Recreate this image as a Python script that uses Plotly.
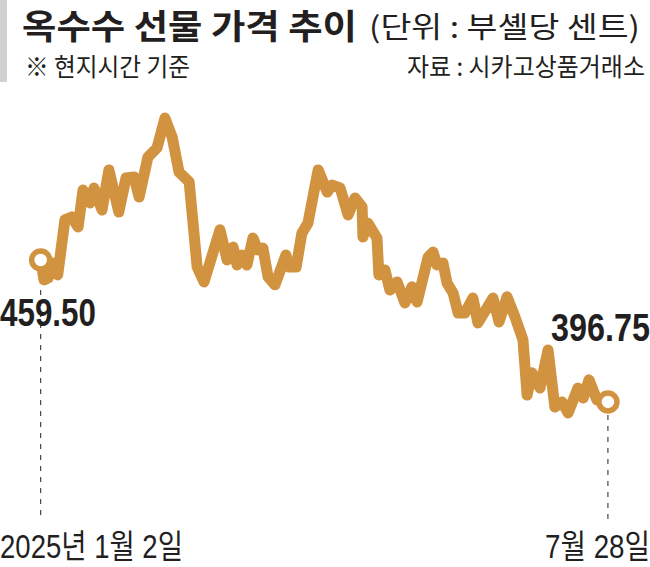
import plotly.graph_objects as go

# Days since 2025-01-02 and corn futures price (cents per bushel)
days = [0, 1.2, 2.7, 4.1, 6.2, 7.6, 8.8, 11.3, 13.6, 15.4, 18, 19.4, 22.3, 24.8, 28.4, 31, 33.9, 35.8, 39, 42.3,
        45.2, 47.8, 50.3, 54, 56.9, 59.4, 65.2, 67.8, 70, 71.4, 73.2, 75, 77.2, 79, 80.8, 82.7, 85.2, 89.2, 90.3,
        92.9, 95, 97.2, 100.9, 104.2, 106, 108.9, 111.8, 114.3, 116.9, 117.2, 119, 122.3, 123, 125.2, 127, 129.6,
        132.5, 135, 136.9, 140.9, 142.7, 144.1, 146.3, 147.8, 150, 151.8, 154.3, 157.2, 159, 160.8, 164.5, 166.7,
        169.6, 172.5, 175.4, 176.9, 178.7, 181.6, 184.5, 187, 189.6, 191.8, 195.4, 197.3, 199.4, 202.3, 206.3]
prices = [459.5, 450.7, 451.5, 458.2, 452.9, 471.4, 477.2, 478.5, 474.1, 490.4, 484.7, 491.3, 481.6, 499.3, 480.7,
          495.7, 496.2, 487.3, 505.0, 509.0, 522.2, 513.9, 498.4, 494.0, 456.4, 449.8, 472.8, 459.5, 465.2, 457.3,
          461.7, 457.3, 469.2, 463.9, 464.8, 452.0, 448.5, 461.7, 456.4, 456.4, 471.4, 475.8, 499.3, 489.5, 492.6,
          491.3, 479.4, 486.9, 482.9, 469.7, 475.8, 469.2, 452.9, 455.1, 446.2, 449.8, 440.5, 447.6, 440.9, 460.8,
          463.0, 457.3, 458.2, 449.3, 444.9, 436.1, 436.1, 442.7, 431.7, 435.2, 442.7, 432.1, 443.2, 434.3, 424.2,
          399.8, 409.6, 402.9, 419.7, 394.5, 396.75, 391.9, 402.9, 398.5, 406.5, 397.6, 396.75]

first_label = "459.50"
last_label = "396.75"
start_date = "2025년 1월 2일"
end_date = "7월 28일"
title = "옥수수 선물 가격 추이"
unit = "(단위 : 부셸당 센트)"
note = "※ 현지시간 기준"
source = "자료 : 시카고상품거래소"

INK = "#231f20"
LINE = "#d29340"
CJK = "Noto Sans CJK KR"
LATIN = "Liberation Sans, Noto Sans CJK KR"

fig = go.Figure()
for x0, y_top in [(days[0], 446.2), (days[-1], 391.0)]:
    fig.add_trace(go.Scatter(x=[x0, x0], y=[y_top, 345.0], mode="lines",
                             line=dict(color=INK, width=1, dash="5px,6px"), hoverinfo="skip"))
fig.add_trace(go.Scatter(x=days, y=prices, mode="lines",
                         line=dict(color=LINE, width=11, shape="linear"), hoverinfo="skip"))
fig.add_trace(go.Scatter(x=[days[0], days[-1]], y=[prices[0], prices[-1]], mode="markers",
                         marker=dict(size=18, color="white", line=dict(color=LINE, width=5.5)), hoverinfo="skip"))

spans = []  # horizontal extent of each text in the reference


def label(text, x0, x1, y, size, family=CJK, bold=False):
    if bold:
        text = f"<b>{text}</b>"
    spans.append([x0, x1])
    fig.add_annotation(text=text, xref="paper", yref="paper", x=x0 / 650, y=1 - y / 567, showarrow=False,
                       xanchor="left", yanchor="middle", font=dict(size=size, family=family, color=INK),
                       borderpad=0, borderwidth=0)


label(title, 22, 357, 24, 34, bold=True)
label(unit, 369, 640, 25, 29)
label(note, 25, 190, 65, 25)
label(source, 407, 645, 65, 25)
label(first_label, 0, 96, 313, 38, family=LATIN, bold=True)
label(last_label, 551, 650, 328, 38, family=LATIN, bold=True)
label(start_date, 0, 183, 546, 33, family=LATIN)
label(end_date, 545, 650, 546, 33, family=LATIN)

fig.add_shape(type="rect", xref="paper", yref="paper", x0=0, x1=7 / 650, y0=1 - 82 / 567, y1=1,
              fillcolor="#d0d1d3", line_width=0, layer="below")

fig.update_layout(
    width=650, height=567, margin=dict(l=0, r=0, t=0, b=0), showlegend=False,
    paper_bgcolor="white", plot_bgcolor="white",
    xaxis=dict(visible=False, range=[-14.8, 221.6], fixedrange=True),
    yaxis=dict(visible=False, range=[323.8, 574.4], fixedrange=True),
)

# The reference sets its type condensed: narrow each real text to its measured span.
post = """
document.documentElement.style.margin = '0';
document.body.style.margin = '0';
var gd = document.querySelector('.js-plotly-plot');
gd.querySelectorAll('.js-line').forEach(function (p) {
  p.style.strokeLinejoin = 'round';
  p.style.strokeLinecap = 'round';
  if (p.style.strokeDasharray && p.style.strokeDasharray !== 'none') p.style.strokeLinecap = 'butt';
});
var spans = %s;
var base = gd.getBoundingClientRect();
gd.querySelectorAll('.annotation-text').forEach(function (t, i) {
  var s = spans[i];
  t.removeAttribute('transform');
  var r = t.getBoundingClientRect(), b = t.getBBox();
  var k = (s[1] - s[0]) / r.width;
  var off = r.left - base.left - b.x;
  t.setAttribute('transform', 'matrix(' + k + ' 0 0 1 ' + (s[0] - off - k * b.x) + ' 0)');
});
""" % spans
fig.write_html("out.html", config={"displayModeBar": False}, post_script=post)
